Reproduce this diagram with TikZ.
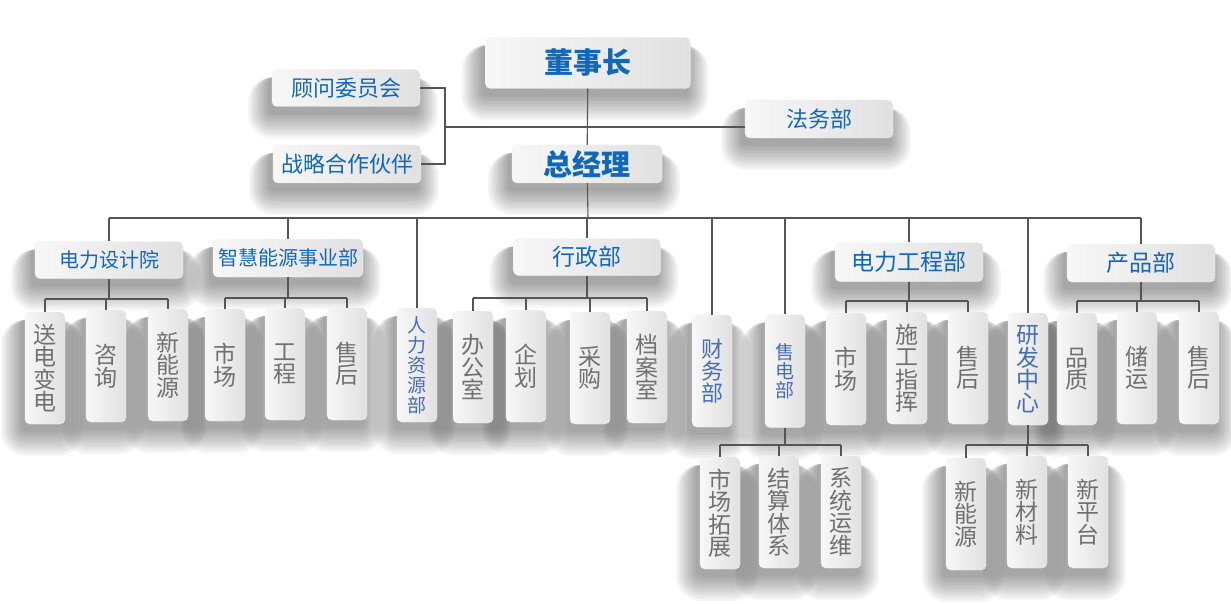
\documentclass[tikz,border=0pt]{standalone}
\usepackage{fontspec}
\newfontfamily\cjk{Noto Sans CJK SC}
\pgfdeclarelayer{bg}
\pgfdeclarelayer{shade}
\pgfsetlayers{bg,shade,main}
\definecolor{hblue}{RGB}{17,104,184}
\definecolor{vblue}{RGB}{70,110,180}
\definecolor{leafgray}{RGB}{112,112,112}
\definecolor{linegray}{RGB}{85,85,85}
\begin{document}
\begin{tikzpicture}[x=1pt, y=-1pt,
  orgbox/.style={rounded corners=5pt, draw=gray!10, left color=gray!6, middle color=white,
    right color=gray!24, inner sep=0pt},
  headbox/.style={orgbox, text=hblue, font=\cjk\bfseries\fontsize{29}{30}\selectfont},
  sidebox/.style={orgbox, minimum width=148pt, minimum height=37pt, text=hblue,
    font=\cjk\fontsize{22}{24}\selectfont},
  deptbox/.style={sidebox, font=\cjk\fontsize{23}{24}\selectfont},
  leafbox/.style={orgbox, minimum width=40pt, minimum height=112pt, align=center,
    text=leafgray, font=\cjk\fontsize{23}{22.5}\selectfont},
  vdeptbox/.style={leafbox, text=vblue},
  softshade/.style={fill=black, opacity=0.035},
  link/.style={draw=linegray, line width=1.1pt}]
\begin{pgfonlayer}{bg}
\fill[white] (0,0) rectangle (1231,604);
\end{pgfonlayer}
\useasboundingbox (0,0) rectangle (1231,604);

% top
\node[headbox, minimum width=205pt, minimum height=51pt] (dsz) at (588,63) {董事长};
\node[headbox, minimum width=150pt, minimum height=38pt] (zjl) at (587,164) {总经理};
\node[sidebox] (gwwy) at (346,88) {顾问委员会};
\node[sidebox, minimum height=38pt] (zlhz) at (347,164) {战略合作伙伴};
\node[sidebox, minimum height=38pt] (fwb) at (819,119) {法务部};

% departments
\node[deptbox, font=\cjk\fontsize{20}{22}\selectfont] (dlsjy) at (109,260) {电力设计院};
\node[deptbox, minimum width=150pt, minimum height=38pt,
  font=\cjk\fontsize{20}{22}\selectfont] (zhny) at (288,258) {智慧能源事业部};
\node[deptbox, minimum width=147pt] (xzb) at (587,257) {行政部};
\node[deptbox, minimum height=39pt] (dlgc) at (909,262) {电力工程部};
\node[deptbox, minimum height=38pt] (cpb) at (1141,263) {产品部};
\node[vdeptbox, minimum height=114pt, font=\cjk\fontsize{19}{20}\selectfont] (rlzy) at (417,365) {人\\力\\资\\源\\部};
\node[vdeptbox, font=\cjk\fontsize{22}{22}\selectfont] (cwb) at (712,371) {财\\务\\部};
\node[vdeptbox, minimum height=113pt, font=\cjk\fontsize{19}{19}\selectfont] (sdb) at (785,371) {售\\电\\部};
\node[vdeptbox] (yfzx) at (1028,369) {研\\发\\中\\心};

% offices
\node[leafbox] (sdbd) at (45,368) {送\\电\\变\\电};
\node[leafbox] (zx) at (106,366) {咨\\询};
\node[leafbox] (xny) at (168,365) {新\\能\\源};
\node[leafbox] (sc) at (225,365) {市\\场};
\node[leafbox] (gc) at (285,364) {工\\程};
\node[leafbox] (sh) at (347,364) {售\\后};
\node[leafbox] (bgs) at (473,367) {办\\公\\室};
\node[leafbox] (qh) at (526,366) {企\\划};
\node[leafbox] (cg) at (590,368) {采\\购};
\node[leafbox] (das) at (647,367) {档\\案\\室};
\node[leafbox] (gsc) at (846,369) {市\\场};
\node[leafbox] (sgzh) at (907,368) {施\\工\\指\\挥};
\node[leafbox] (gsh) at (968,368) {售\\后};
\node[leafbox] (pz) at (1077,369) {品\\质};
\node[leafbox] (cy) at (1137,368) {储\\运};
\node[leafbox] (csh) at (1199,368) {售\\后};
\node[leafbox] (sctz) at (720,513) {市\\场\\拓\\展};
\node[leafbox] (jstx) at (779,512) {结\\算\\体\\系};
\node[leafbox] (xtyw) at (841,512) {系\\统\\运\\维};
\node[leafbox] (yxny) at (966,514) {新\\能\\源};
\node[leafbox] (xcl) at (1027,512) {新\\材\\料};
\node[leafbox] (xpt) at (1088,512) {新\\平\\台};

% soft shadows under every box
\begin{pgfonlayer}{shade}
\foreach \n in {dsz,zjl,gwwy,zlhz,fwb,dlsjy,zhny,xzb,dlgc,cpb,rlzy,cwb,sdb,yfzx,
    sdbd,zx,xny,sc,gc,sh,bgs,qh,cg,das,gsc,sgzh,gsh,pz,cy,csh,
    sctz,jstx,xtyw,yxny,xcl,xpt}
  \foreach \s in {0,2,...,20}
    \fill[softshade, rounded corners=5pt+\s pt]
      ([xshift=-4pt-\s pt, yshift=-8pt]\n.north west)
      rectangle ([xshift=-2pt+\s pt, yshift=-8pt-1.2*\s pt]\n.south east);
\end{pgfonlayer}

% connectors
\coordinate (side) at (445,127);
\coordinate (bus) at (588,218);
\draw[link] (dsz) -- (zjl);
\draw[link] (gwwy.east) -| (side);
\draw[link] (zlhz.east) -| (side);
\draw[link] (side) -- (fwb.west |- side);
\draw[link] (zjl) -- (bus);
\draw[link] (dlsjy.north |- bus) -- (cpb.north |- bus);
\foreach \d in {dlsjy,zhny,rlzy,xzb,cwb,sdb,dlgc,yfzx,cpb}
  \draw[link] (\d.north |- bus) -- (\d.north);

\foreach \p/\y in {dlsjy/299,zhny/298,xzb/298,dlgc/301,cpb/301,sdb/445,yfzx/445}
  \coordinate (\p-br) at (0,\y);
\foreach \p/\a/\b in {dlsjy/sdbd/xny,zhny/sc/sh,xzb/bgs/das,dlgc/gsc/gsh,
    cpb/pz/csh,sdb/sctz/xtyw,yfzx/yxny/xpt}{
  \draw[link] (\p.south) -- (\p.south |- \p-br);
  \draw[link] (\a.north |- \p-br) -- (\b.north |- \p-br);
}
\foreach \k/\p in {sdbd/dlsjy,zx/dlsjy,xny/dlsjy,sc/zhny,gc/zhny,sh/zhny,
    bgs/xzb,qh/xzb,cg/xzb,das/xzb,gsc/dlgc,sgzh/dlgc,gsh/dlgc,
    pz/cpb,cy/cpb,csh/cpb,sctz/sdb,jstx/sdb,xtyw/sdb,yxny/yfzx,xcl/yfzx,xpt/yfzx}
  \draw[link] (\k.north |- \p-br) -- (\k.north);
\end{tikzpicture}
\end{document}
